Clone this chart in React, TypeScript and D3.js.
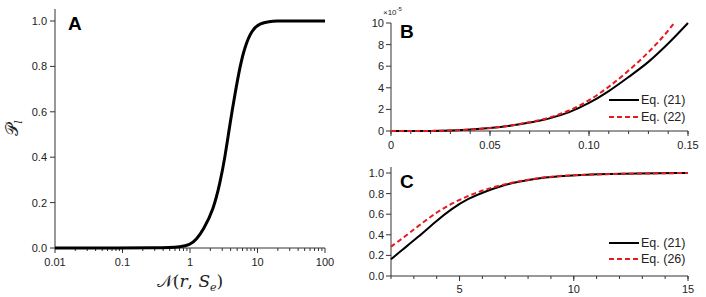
import React from "react";
import * as d3 from "d3";

// Panel A data
const aN = [0.01, 0.1, 0.3, 0.5, 0.7, 1, 1.25, 1.57, 2.21, 2.78, 3.3, 3.92, 4.65, 5.5, 6.5, 8.2, 10.8, 15, 19, 30, 100];
const aP = [0, 0, 0.0005, 0.002, 0.005, 0.013, 0.038, 0.079, 0.167, 0.285, 0.4, 0.55, 0.68, 0.8, 0.887, 0.96, 0.99, 0.998, 1, 1, 1];
const aXTicks = [0.01, 0.1, 1, 10, 100];
const aXTickLabels = ["0.01", "0.1", "1", "10", "100"];
const aYTicks = [0, 0.2, 0.4, 0.6, 0.8, 1.0];

// Panel B data (values ×1e-5)
const bX21 = [0, 0.01, 0.02, 0.03, 0.04, 0.05, 0.06, 0.07, 0.08, 0.09, 0.1, 0.11, 0.12, 0.13, 0.14, 0.15];
const bY21 = [0, 0, 0.01, 0.05, 0.13, 0.27, 0.48, 0.78, 1.17, 1.75, 2.6, 3.7, 5.0, 6.4, 8.1, 10];
const bX22 = [0, 0.01, 0.02, 0.03, 0.04, 0.05, 0.06, 0.07, 0.08, 0.09, 0.1, 0.11, 0.12, 0.13, 0.14, 0.143];
const bY22 = [0, 0, 0.01, 0.05, 0.13, 0.28, 0.5, 0.82, 1.25, 1.9, 2.85, 4.1, 5.6, 7.3, 9.3, 10];
const bXTicks = [0, 0.05, 0.1, 0.15];
const bXTickLabels = ["0", "0.05", "0.10", "0.15"];
const bYTicks = [0, 2, 4, 6, 8, 10];

// Panel C data
const cX = [2, 2.47, 3.2, 3.93, 4.66, 5.39, 6.12, 6.85, 7.58, 8.74, 10, 12, 15];
const cY21 = [0.162, 0.25, 0.38, 0.525, 0.655, 0.754, 0.82, 0.877, 0.916, 0.96, 0.98, 0.993, 1.0];
const cY26 = [0.285, 0.36, 0.485, 0.61, 0.705, 0.78, 0.84, 0.885, 0.92, 0.962, 0.981, 0.993, 1.0];
const cXTicks = [5, 10, 15];
const cYTicks = [0, 0.2, 0.4, 0.6, 0.8, 1.0];

const FONT = "Liberation Sans, Arial, sans-serif";
const AX = "#333";

export default function App() {
  // Panel A scales
  const ax = d3.scaleLog().domain([0.01, 100]).range([55, 325]);
  const ay = d3.scaleLinear().domain([0, 1]).range([248, 21]);
  const aLine = d3
    .line<number>()
    .x((_, i) => ax(aN[i]))
    .y((d) => ay(d))
    .curve(d3.curveBasis);
  const aMinor: number[] = [];
  for (let e = -2; e < 2; e++) for (let m = 2; m <= 9; m++) aMinor.push(m * Math.pow(10, e));

  // Panel B scales
  const bx = d3.scaleLinear().domain([0, 0.15]).range([391, 688]);
  const by = d3.scaleLinear().domain([0, 10]).range([131, 23]);
  const bLine = (xs: number[]) =>
    d3
      .line<number>()
      .x((_, i) => bx(xs[i]))
      .y((d) => by(d))
      .curve(d3.curveMonotoneX);
  const bMinor = d3.range(0, 0.1501, 0.01);

  // Panel C scales
  const cx = d3.scaleLinear().domain([2, 15]).range([391, 688]);
  const cy = d3.scaleLinear().domain([0, 1]).range([276, 173]);
  const cLine = d3
    .line<number>()
    .x((_, i) => cx(cX[i]))
    .y((d) => cy(d))
    .curve(d3.curveBasis);
  const cMinor = d3.range(2, 15.01, 1);

  const fmt1 = d3.format(".1f");

  return (
    <svg width={706} height={297} style={{ position: "absolute", left: 0, top: 0, background: "#fff" }}>
      {/* ---------- Panel A ---------- */}
      <g fontFamily={FONT} fontSize={11} fill="#222">
        <line x1={55} x2={55} y1={9} y2={248} stroke={AX} strokeWidth={1} />
        <line x1={55} x2={325} y1={248} y2={248} stroke={AX} strokeWidth={1} />
        {aYTicks.map((t) => (
          <g key={"ay" + t}>
            <line x1={50} x2={55} y1={ay(t)} y2={ay(t)} stroke={AX} />
            <text x={47} y={ay(t) + 4} textAnchor="end">{fmt1(t)}</text>
          </g>
        ))}
        {aMinor.map((t) => (
          <line key={"axm" + t} x1={ax(t)} x2={ax(t)} y1={248} y2={251} stroke={AX} />
        ))}
        {aXTicks.map((t, i) => (
          <g key={"ax" + t}>
            <line x1={ax(t)} x2={ax(t)} y1={248} y2={253} stroke={AX} />
            <text x={ax(t)} y={266} textAnchor="middle">{aXTickLabels[i]}</text>
          </g>
        ))}
        <path d={aLine(aP) || ""} fill="none" stroke="#000" strokeWidth={3} />
        <text x={68} y={30} fontSize={19} fontWeight="bold" fill="#000">A</text>
        <text x={190} y={287} textAnchor="middle" fontFamily="DejaVu Serif, serif" fontSize={17} fill="#222">
          <tspan>𝒩</tspan>
          <tspan>(</tspan>
          <tspan fontStyle="italic">r</tspan>
          <tspan>, </tspan>
          <tspan fontStyle="italic">S</tspan>
          <tspan fontStyle="italic" fontSize={11} dy={4}>e</tspan>
          <tspan dy={-4}>)</tspan>
        </text>
        <text transform="translate(18,128) rotate(-90)" textAnchor="middle" fontFamily="DejaVu Serif, serif" fontSize={17} fill="#222">
          <tspan>𝒫</tspan>
          <tspan fontStyle="italic" fontSize={11} dy={4}>l</tspan>
        </text>
      </g>

      {/* ---------- Panel B ---------- */}
      <g fontFamily={FONT} fontSize={11} fill="#222">
        <line x1={391} x2={391} y1={23} y2={131} stroke={AX} />
        <line x1={391} x2={688} y1={131} y2={131} stroke={AX} />
        {bYTicks.map((t) => (
          <g key={"by" + t}>
            <line x1={386} x2={391} y1={by(t)} y2={by(t)} stroke={AX} />
            <text x={384} y={by(t) + 4} textAnchor="end">{t}</text>
          </g>
        ))}
        {bMinor.map((t) => (
          <line key={"bxm" + t} x1={bx(t)} x2={bx(t)} y1={131} y2={134} stroke={AX} />
        ))}
        {bXTicks.map((t, i) => (
          <g key={"bx" + t}>
            <line x1={bx(t)} x2={bx(t)} y1={131} y2={136} stroke={AX} />
            <text x={bx(t)} y={149} textAnchor="middle">{bXTickLabels[i]}</text>
          </g>
        ))}
        <text x={383} y={15} fontSize={8}>
          ×10<tspan fontSize={6} dy={-4}>-5</tspan>
        </text>
        <path d={bLine(bX21)(bY21) || ""} fill="none" stroke="#000" strokeWidth={2} />
        <path d={bLine(bX22)(bY22) || ""} fill="none" stroke="#e8191c" strokeWidth={2} strokeDasharray="5,3" />
        <text x={400} y={38} fontSize={19} fontWeight="bold" fill="#000">B</text>
        <line x1={609} x2={639} y1={100} y2={100} stroke="#000" strokeWidth={2} />
        <text x={641} y={104} fontSize={12.5}>Eq. (21)</text>
        <line x1={609} x2={639} y1={117} y2={117} stroke="#e8191c" strokeWidth={2} strokeDasharray="5,3" />
        <text x={641} y={121} fontSize={12.5}>Eq. (22)</text>
      </g>

      {/* ---------- Panel C ---------- */}
      <g fontFamily={FONT} fontSize={11} fill="#222">
        <line x1={391} x2={391} y1={167} y2={276} stroke={AX} />
        <line x1={391} x2={688} y1={276} y2={276} stroke={AX} />
        {cYTicks.map((t) => (
          <g key={"cy" + t}>
            <line x1={386} x2={391} y1={cy(t)} y2={cy(t)} stroke={AX} />
            <text x={384} y={cy(t) + 4} textAnchor="end">{fmt1(t)}</text>
          </g>
        ))}
        {cMinor.map((t) => (
          <line key={"cxm" + t} x1={cx(t)} x2={cx(t)} y1={276} y2={279} stroke={AX} />
        ))}
        {cXTicks.map((t) => (
          <g key={"cx" + t}>
            <line x1={cx(t)} x2={cx(t)} y1={276} y2={281} stroke={AX} />
            <text x={cx(t)} y={293} textAnchor="middle">{t}</text>
          </g>
        ))}
        <path d={cLine(cY21) || ""} fill="none" stroke="#000" strokeWidth={2} />
        <path d={cLine(cY26) || ""} fill="none" stroke="#e8191c" strokeWidth={2} strokeDasharray="5,3" />
        <text x={400} y={188} fontSize={19} fontWeight="bold" fill="#000">C</text>
        <line x1={609} x2={639} y1={243} y2={243} stroke="#000" strokeWidth={2} />
        <text x={641} y={247} fontSize={12.5}>Eq. (21)</text>
        <line x1={609} x2={639} y1={259} y2={259} stroke="#e8191c" strokeWidth={2} strokeDasharray="5,3" />
        <text x={641} y={263} fontSize={12.5}>Eq. (26)</text>
      </g>
    </svg>
  );
}
